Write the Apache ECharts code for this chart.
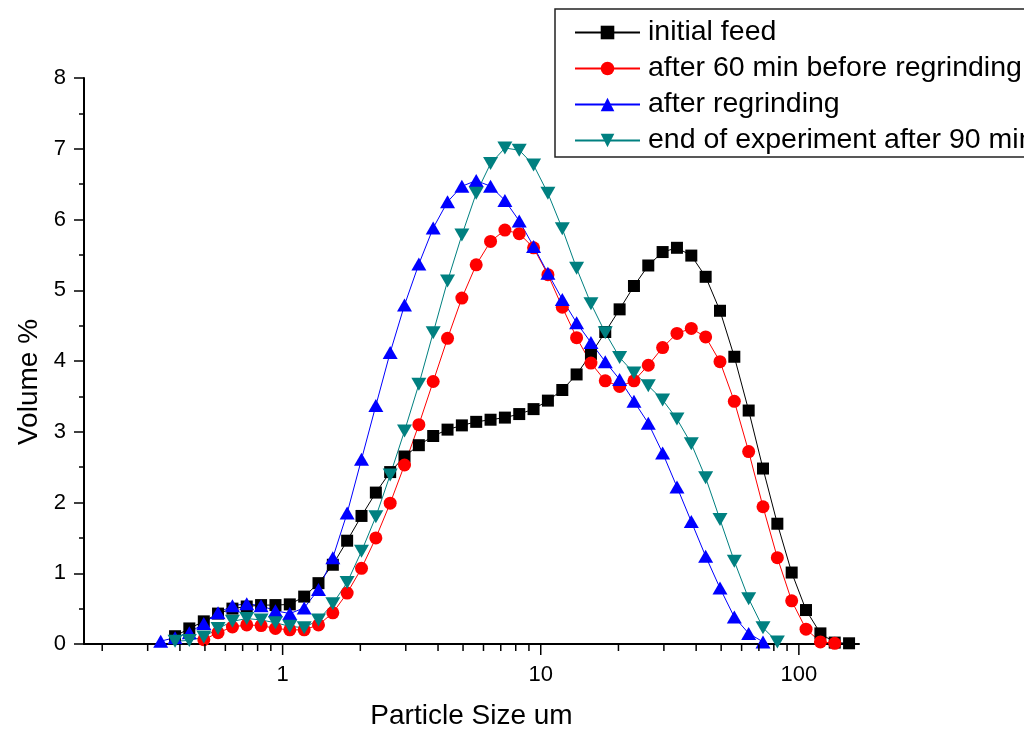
<!DOCTYPE html>
<html>
<head>
<meta charset="utf-8">
<script src="https://cdn.jsdelivr.net/npm/echarts@6/dist/echarts.min.js"></script>
<style>
html,body{margin:0;padding:0;background:#fff;}
#chart{width:1024px;height:736px;}
</style>
</head>
<body>
<div id="chart"></div>
<script>
// Particle size bins (um)
const sizes = [0.337, 0.383, 0.435, 0.495, 0.562, 0.639, 0.726, 0.825, 0.938, 1.066,
  1.212, 1.377, 1.565, 1.778, 2.021, 2.297, 2.610, 2.966, 3.371, 3.831,
  4.354, 4.948, 5.623, 6.391, 7.263, 8.254, 9.380, 10.66, 12.12, 13.77,
  15.65, 17.78, 20.21, 22.97, 26.10, 29.66, 33.71, 38.31, 43.54, 49.48,
  56.23, 63.91, 72.62, 82.54, 93.80, 106.6, 121.2, 137.7, 156.5];

const initialFeed = [null, 0.11, 0.22, 0.32, 0.43, 0.50, 0.53, 0.55, 0.55, 0.56,
  0.67, 0.86, 1.12, 1.46, 1.81, 2.14, 2.43, 2.65, 2.81, 2.94,
  3.03, 3.09, 3.14, 3.17, 3.20, 3.25, 3.32, 3.44, 3.59, 3.81,
  4.10, 4.41, 4.73, 5.06, 5.35, 5.54, 5.60, 5.49, 5.19, 4.71,
  4.06, 3.30, 2.48, 1.70, 1.01, 0.48, 0.15, 0.02, 0.01];

const after60 = [null, null, null, 0.06, 0.16, 0.24, 0.27, 0.26, 0.22, 0.20,
  0.20, 0.27, 0.44, 0.72, 1.07, 1.50, 1.99, 2.53, 3.10, 3.71,
  4.32, 4.89, 5.36, 5.69, 5.85, 5.80, 5.60, 5.22, 4.76, 4.33,
  3.97, 3.72, 3.64, 3.72, 3.94, 4.19, 4.39, 4.46, 4.34, 3.99,
  3.43, 2.72, 1.94, 1.22, 0.61, 0.21, 0.03, 0.01, null];

const afterRegrinding = [0.04, 0.09, 0.16, 0.29, 0.44, 0.54, 0.57, 0.54, 0.47, 0.43,
  0.51, 0.77, 1.22, 1.85, 2.61, 3.37, 4.12, 4.79, 5.37, 5.88,
  6.25, 6.47, 6.55, 6.47, 6.27, 5.98, 5.62, 5.24, 4.87, 4.54,
  4.26, 3.99, 3.74, 3.43, 3.12, 2.70, 2.22, 1.73, 1.24, 0.79,
  0.38, 0.15, 0.03, null, null, null, null, null, null];

const endOfExperiment = [null, 0.04, 0.05, 0.10, 0.22, 0.32, 0.36, 0.34, 0.30, 0.25,
  0.23, 0.34, 0.57, 0.87, 1.31, 1.80, 2.39, 3.01, 3.67, 4.40,
  5.13, 5.78, 6.37, 6.79, 7.01, 6.98, 6.77, 6.37, 5.87, 5.31,
  4.81, 4.40, 4.05, 3.83, 3.65, 3.45, 3.18, 2.83, 2.35, 1.76,
  1.17, 0.64, 0.23, 0.03, null, null, null, null, null];

const seriesNames = ['initial feed', 'after 60 min before regrinding', 'after regrinding', 'end of experiment after 90 min'];

const yTicks = [0, 1, 2, 3, 4, 5, 6, 7, 8];
const xMajorTicks = [1, 10, 100];
const xMinorTicks = [0.2, 0.3, 0.4, 0.5, 0.6, 0.7, 0.8, 0.9, 2, 3, 4, 5, 6, 7, 8, 9, 20, 30, 40, 50, 60, 70, 80, 90];

function pairs(vals) {
  const out = [];
  vals.forEach((v, i) => { if (v !== null) out.push([sizes[i], v]); });
  return out;
}

const tickData = xMajorTicks.map(v => [v, 0, 11]).concat(xMinorTicks.map(v => [v, 0, 7]));

const FONT = 'Liberation Sans, Arial, sans-serif';

const chart = echarts.init(document.getElementById('chart'), null, {renderer: 'canvas'});

function lineSeries(name, vals, color, symbol, size, rotate) {
  return {
    name: name,
    type: 'line',
    data: pairs(vals),
    symbol: symbol,
    symbolSize: size,
    symbolRotate: rotate || 0,
    showAllSymbol: true,
    lineStyle: {color: color, width: 1},
    itemStyle: {color: color},
    emphasis: {disabled: true},
    z: 3
  };
}

chart.setOption({
  animation: false,
  backgroundColor: '#fff',
  textStyle: {fontFamily: FONT, color: '#000'},
  grid: {left: 84, right: 165, top: 78, bottom: 92},
  legend: {
    orient: 'vertical',
    left: 555,
    top: 9,
    padding: [9, 40, 2, 19],
    itemGap: 7,
    itemWidth: 65,
    itemHeight: 17,
    data: seriesNames,
    borderColor: '#222',
    borderWidth: 1.5,
    backgroundColor: '#fff',
    textStyle: {fontSize: 28.5, lineHeight: 28, color: '#000', fontFamily: FONT, padding: [0, 0, 0, 3]}
  },
  xAxis: {
    type: 'log',
    logBase: 10,
    min: 0.17,
    max: 171,
    axisLine: {show: true, lineStyle: {color: '#000', width: 2}},
    axisTick: {show: false},
    minorTick: {show: false},
    splitLine: {show: false},
    axisLabel: {
      fontSize: 22,
      color: '#000',
      margin: 20,
      formatter: function (v) {
        for (const t of xMajorTicks) {
          if (Math.abs(v - t) / t < 1e-6) return String(t);
        }
        return '';
      }
    },
    name: 'Particle Size um',
    nameLocation: 'middle',
    nameGap: 58,
    nameTextStyle: {fontSize: 28, color: '#000'}
  },
  yAxis: {
    type: 'value',
    min: yTicks[0],
    max: yTicks[yTicks.length - 1],
    interval: 1,
    axisLine: {show: true, lineStyle: {color: '#000', width: 2}},
    axisTick: {show: true, length: 10, lineStyle: {color: '#000', width: 1.5}},
    minorTick: {show: true, splitNumber: 2, length: 5, lineStyle: {color: '#000', width: 1.5}},
    splitLine: {show: false},
    axisLabel: {fontSize: 22, color: '#000', margin: 18},
    name: 'Volume %',
    nameLocation: 'middle',
    nameRotate: 90,
    nameGap: 40,
    nameTextStyle: {fontSize: 28, color: '#000', padding: [0, 42, 0, 0]}
  },
  series: [
    lineSeries(seriesNames[0], initialFeed, '#000000', 'rect', 12),
    lineSeries(seriesNames[1], after60, '#ff0000', 'circle', 13),
    lineSeries(seriesNames[2], afterRegrinding, '#0000ff', 'triangle', [15, 13]),
    lineSeries(seriesNames[3], endOfExperiment, '#008080', 'triangle', [15, 13], 180),
    {
      type: 'custom',
      name: 'xticks',
      silent: true,
      data: tickData,
      encode: {x: 0, y: 1},
      z: 5,
      renderItem: function (params, api) {
        const p = api.coord([api.value(0), 0]);
        return {
          type: 'line',
          shape: {x1: p[0], y1: p[1], x2: p[0], y2: p[1] + api.value(2)},
          style: {stroke: '#000', lineWidth: 1.5}
        };
      }
    }
  ]
});
</script>
</body>
</html>
